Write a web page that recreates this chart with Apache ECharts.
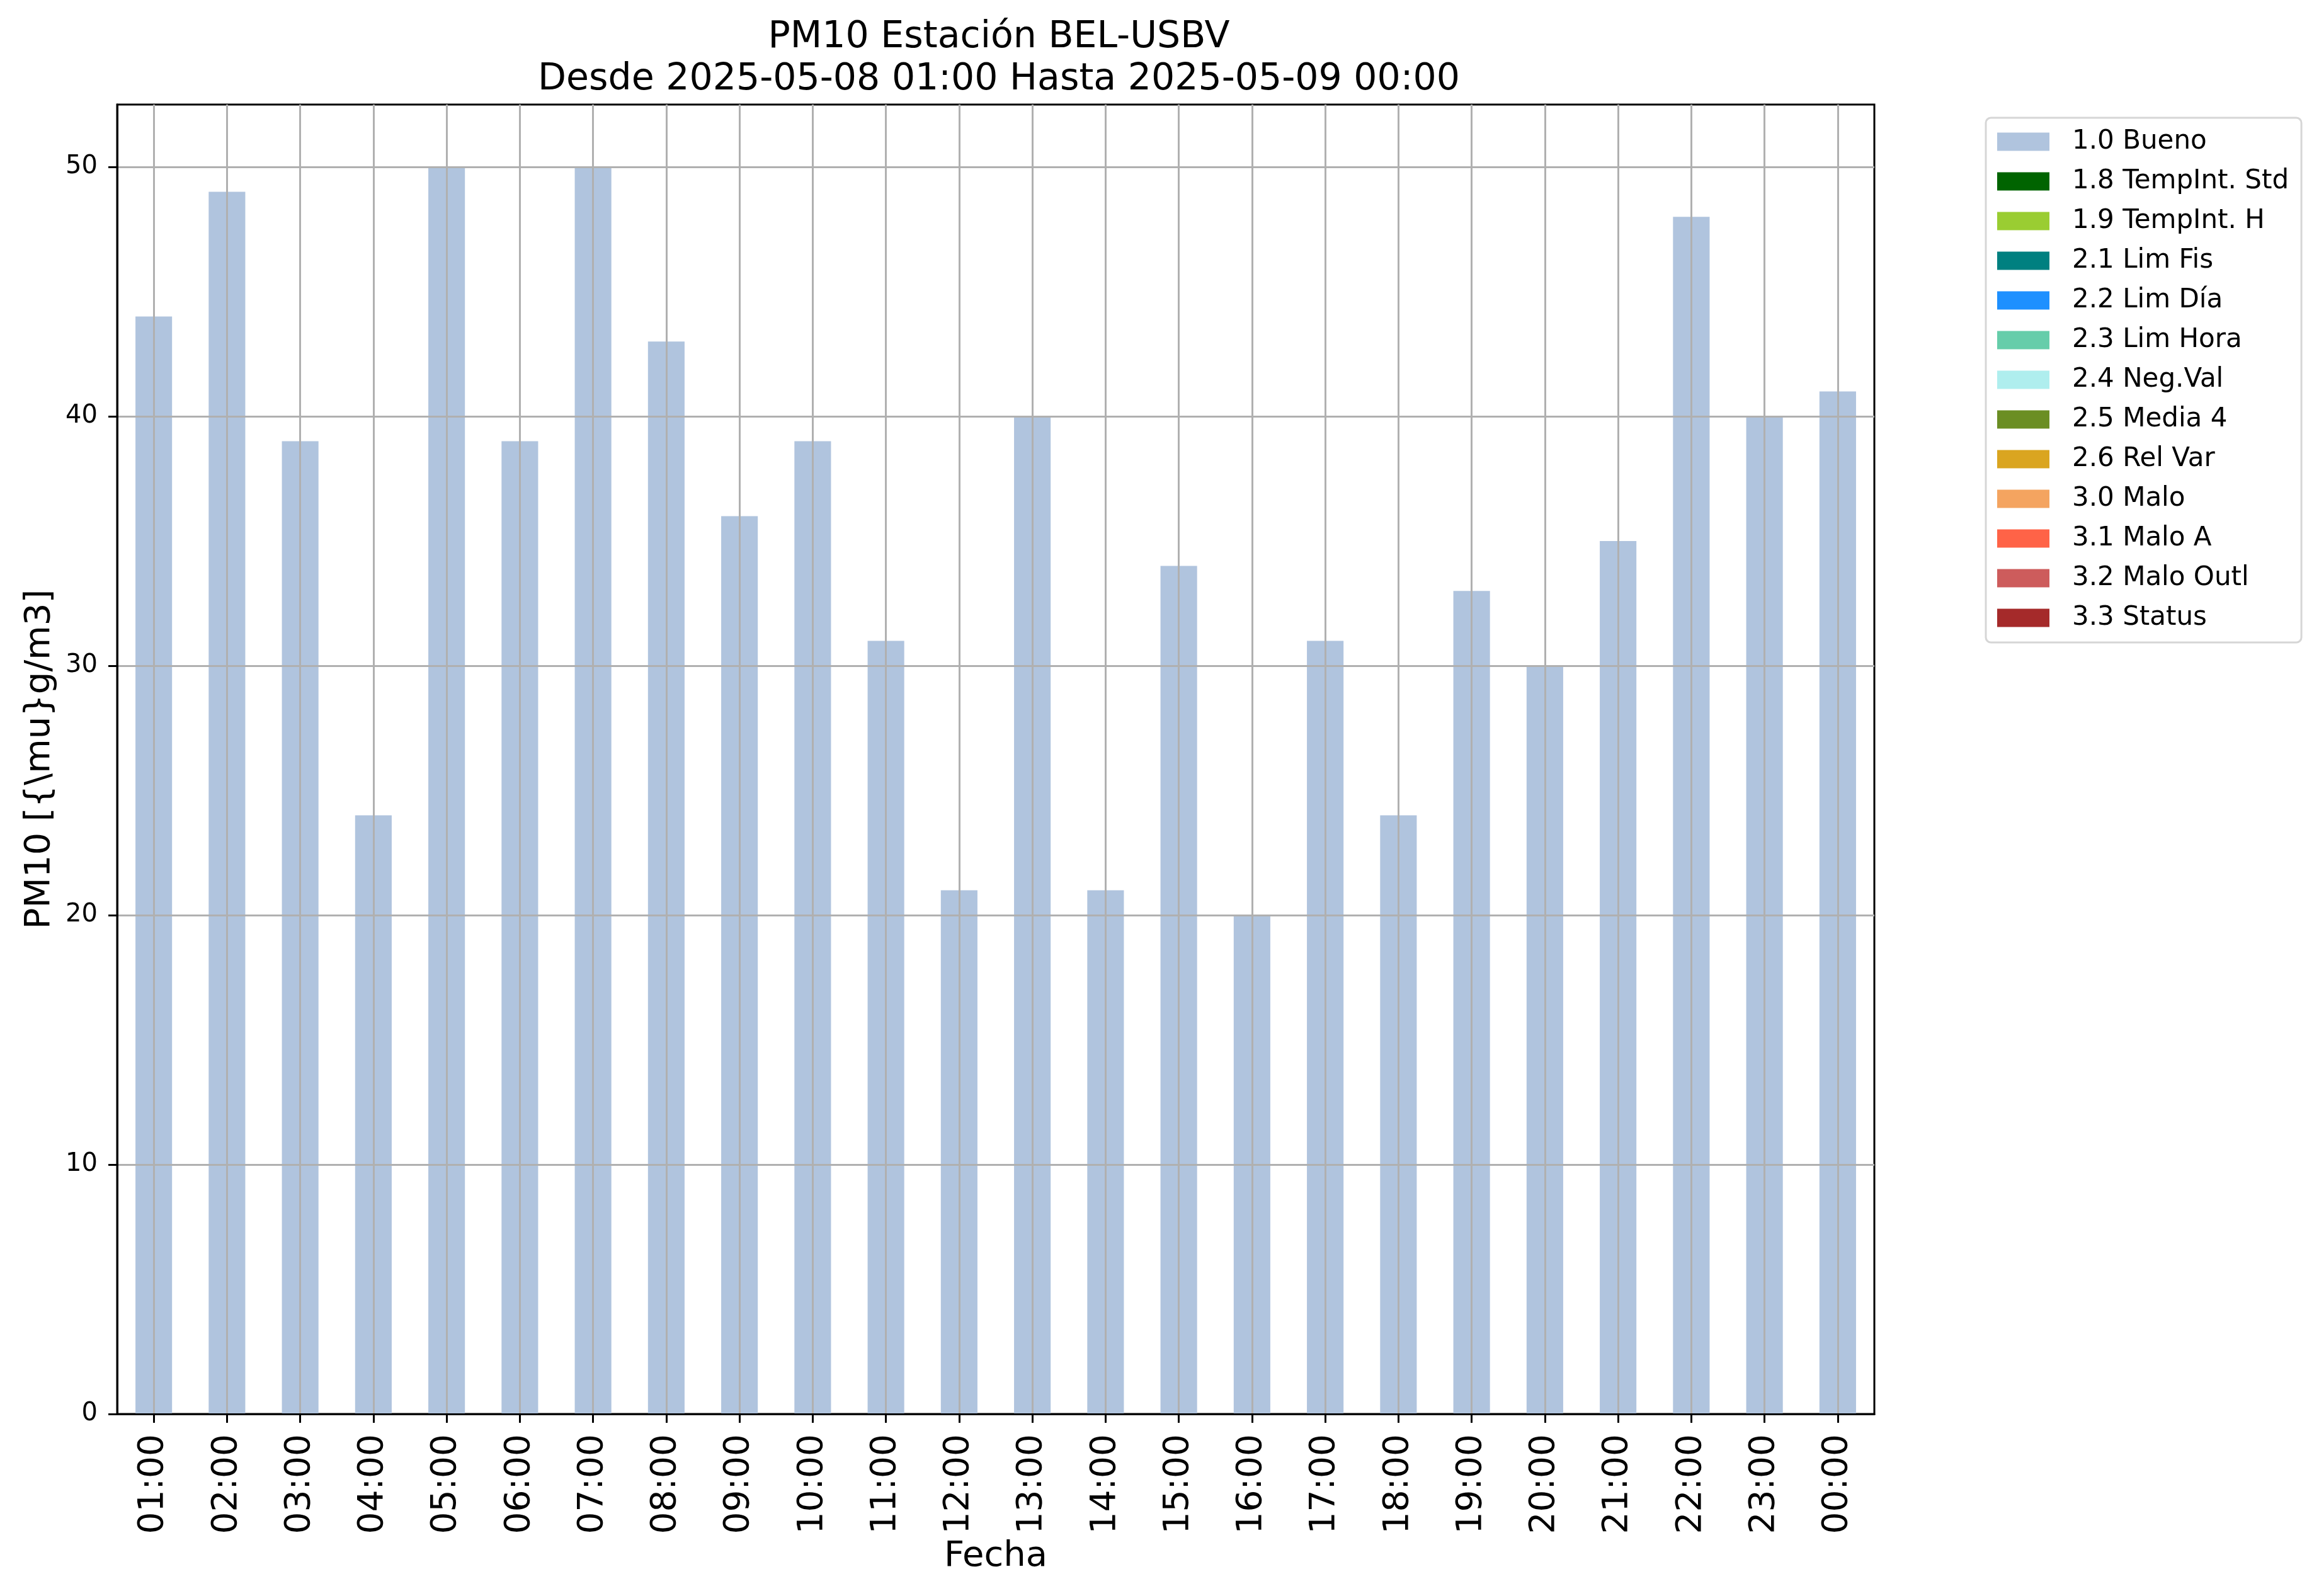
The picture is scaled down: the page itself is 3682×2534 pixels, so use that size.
<!DOCTYPE html>
<html><head><meta charset="utf-8">
<script src="https://cdn.jsdelivr.net/npm/echarts@6/dist/echarts.min.js"></script>
<style>html,body{margin:0;padding:0;background:#fff}#c{width:3682px;height:2534px}</style>
</head><body><div id="c"></div>
<script>
const hours = ['01:00','02:00','03:00','04:00','05:00','06:00','07:00','08:00','09:00','10:00','11:00','12:00','13:00','14:00','15:00','16:00','17:00','18:00','19:00','20:00','21:00','22:00','23:00','00:00'];
const buenoValues = [44,49,39,24,50,39,50,43,36,39,31,21,40,21,34,20,31,24,33,30,35,48,40,41];
const legendNames = ['1.0 Bueno','1.8 TempInt. Std','1.9 TempInt. H','2.1 Lim Fis','2.2 Lim Día','2.3 Lim Hora','2.4 Neg.Val','2.5 Media 4','2.6 Rel Var','3.0 Malo','3.1 Malo A','3.2 Malo Outl','3.3 Status'];
const legendColors = ['#b0c4de','#006400','#9acd32','#008080','#1e90ff','#66cdaa','#afeeee','#6b8e23','#daa520','#f4a460','#ff6347','#cd5c5c','#a52a2a'];
const yTicks = [0,10,20,30,40,50];
const titleText = 'PM10 Estación BEL-USBV\nDesde 2025-05-08 01:00 Hasta 2025-05-09 00:00';
const yName = 'PM10 [{\\mu}g/m3]';
const xName = 'Fecha';

const FONT = 'DejaVu Sans';
const chart = echarts.init(document.getElementById('c'), null, {renderer:'canvas'});
const series = legendNames.map((n,i)=>({
  name:n, type:'bar', stack:'total', barWidth:'50%',
  data: i===0 ? buenoValues : [],
  itemStyle:{color:legendColors[i]}, z:2
}));
chart.setOption({
  animation:false,
  backgroundColor:'#fff',
  textStyle:{fontFamily:FONT},
  title:{
    text:titleText, left:1581, top:21, textAlign:'center',
    textStyle:{fontFamily:FONT, fontSize:58.5, fontWeight:'normal', color:'#000', lineHeight:67}
  },
  legend:{
    orient:'vertical', left:3153, top:187,
    padding:[17,20,18,18],
    itemWidth:83, itemHeight:29, itemGap:21,
    icon:'rect',
    borderColor:'#d6d6d6', borderWidth:3, borderRadius:8, backgroundColor:'#fff',
    textStyle:{fontFamily:FONT, fontSize:42, color:'#000', lineHeight:42, padding:[0,0,0,31]},
    data:legendNames
  },
  grid:{left:186, top:166, width:2790, height:2079, show:true, borderColor:'#000', borderWidth:3, outerBoundsMode:'none'},
  xAxis:{
    type:'category', data:hours, boundaryGap:true, z:10,
    name:xName, nameLocation:'middle', nameGap:194,
    nameTextStyle:{fontFamily:FONT, fontSize:56, color:'#000'},
    axisLine:{show:true, lineStyle:{color:'#000', width:3}},
    axisTick:{show:true, alignWithLabel:true, length:14, lineStyle:{color:'#000', width:3}},
    axisLabel:{rotate:90, margin:32, fontFamily:FONT, fontSize:55, color:'#000', interval:0},
    splitLine:{show:true, alignWithLabel:true, interval:0, lineStyle:{color:'#b0b0b0', width:3}}
  },
  yAxis:{
    type:'value', min:0, max:52.5, interval:10, z:10,
    name:yName, nameLocation:'middle', nameGap:95, nameRotate:90,
    nameTextStyle:{fontFamily:FONT, fontSize:56, color:'#000'},
    axisLine:{show:true, lineStyle:{color:'#000', width:3}},
    axisTick:{show:true, length:14, lineStyle:{color:'#000', width:3}, customValues:yTicks},
    axisLabel:{margin:31, fontFamily:FONT, fontSize:40, color:'#000', customValues:yTicks},
    splitLine:{show:true, lineStyle:{color:'#b0b0b0', width:3}}
  },
  series:series
});
</script></body></html>
